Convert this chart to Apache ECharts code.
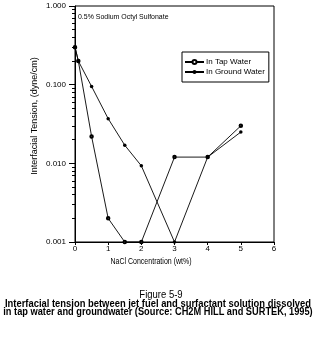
<!DOCTYPE html>
<html><head><meta charset="utf-8">
<script src="https://cdn.jsdelivr.net/npm/echarts@6/dist/echarts.min.js"></script>
<style>html,body{margin:0;padding:0;background:#fff}#c{width:322px;height:340px}</style>
</head><body><div id="c"></div>
<script>
const concentrations = [0, 0.1, 0.5, 1, 1.5, 2, 3, 4, 5];
const tapWater = [0.3, 0.2, 0.022, 0.002, 0.001, 0.001, 0.012, 0.012, 0.03];
const groundWater = [0.3, 0.2, 0.095, 0.037, 0.017, 0.0093, 0.001, 0.012, 0.025];
const seriesNames = ['In Tap Water', 'In Ground Water'];
const xTicks = [0, 1, 2, 3, 4, 5, 6];
const yMajorTicks = [0.001, 0.01, 0.1, 1];
const yMinorTicks = [0.002,0.003,0.004,0.005,0.006,0.007,0.008,0.009,
                     0.02,0.03,0.04,0.05,0.06,0.07,0.08,0.09,
                     0.2,0.3,0.4,0.5,0.6,0.7,0.8,0.9];
const chartNote = '0.5% Sodium Octyl Sulfonate';
const xName = 'NaCl Concentration (wt%)';
const yName = 'Interfacial Tension, (dyne/cm)';
const figTitle = 'Figure 5-9';
const caption1 = 'Interfacial tension between jet fuel and surfactant solution dissolved';
const caption2 = 'in tap water and groundwater (Source: CH2M HILL and SURTEK, 1995)';

const NF = "'Liberation Sans',Arial,sans-serif";
const pair = (xs, ys) => xs.map((x, i) => [x, ys[i]]);
const black = '#000';

const chart = echarts.init(document.getElementById('c'), null, {renderer: 'canvas'});
chart.setOption({
  animation: false,
  backgroundColor: '#fff',
  grid: {left: 75, top: 6, width: 199, height: 236, show: true, borderColor: black, borderWidth: 1, backgroundColor: 'transparent'},
  xAxis: {
    type: 'value', min: xTicks[0], max: xTicks[xTicks.length - 1], interval: 1,
    axisLine: {lineStyle: {color: black, width: 1}},
    axisTick: {length: 3, lineStyle: {color: black}},
    axisLabel: {color: black, fontSize: 8, fontFamily: NF, margin: 3},
    splitLine: {show: false}
  },
  yAxis: [{
    type: 'log', logBase: 10, min: yMajorTicks[0], max: yMajorTicks[yMajorTicks.length - 1],
    axisLine: {lineStyle: {color: black, width: 1}},
    axisTick: {length: 6, customValues: yMajorTicks, lineStyle: {color: black}},
    axisLabel: {color: black, fontSize: 8, fontFamily: NF, margin: 9, customValues: yMajorTicks,
      formatter: v => Number(v).toFixed(3)},
    splitLine: {show: false}
  }, {
    type: 'log', logBase: 10, min: yMajorTicks[0], max: yMajorTicks[yMajorTicks.length - 1],
    position: 'left', offset: 0,
    axisLine: {show: false},
    axisTick: {length: 3, customValues: yMinorTicks, lineStyle: {color: black}},
    axisLabel: {show: false},
    splitLine: {show: false}
  }],
  legend: {
    left: 182, top: 52, orient: 'vertical',
    backgroundColor: '#fff', borderColor: black, borderWidth: 1, borderRadius: 0,
    padding: [6, 4, 6, 2], itemGap: 2, itemWidth: 19, itemHeight: 5,
    textStyle: {color: black, fontSize: 8, fontFamily: NF, padding: [0, 0, 0, -3]},
    data: seriesNames
  },
  series: [{
    name: seriesNames[0], type: 'line', data: pair(concentrations, tapWater),
    symbol: 'emptyCircle', symbolSize: 2.5, clip: false,
    lineStyle: {color: black, width: 0.9}, itemStyle: {color: black, borderWidth: 0.8}
  }, {
    name: seriesNames[1], type: 'line', data: pair(concentrations, groundWater),
    symbol: 'circle', symbolSize: 3.5, clip: false,
    lineStyle: {color: black, width: 0.9}, itemStyle: {color: black}
  }],
  graphic: [
    {type: 'text', x: 78, y: 17, scaleX: 0.87, style: {text: chartNote, fontSize: 8, fontFamily: NF, fill: black, verticalAlign: 'middle'}},
    {type: 'text', x: 151, y: 262, scaleX: 0.78, style: {text: xName, fontSize: 9, fontFamily: NF, fill: black, align: 'center', verticalAlign: 'middle'}},
    {type: 'text', x: 35, y: 116, rotation: Math.PI / 2, style: {text: yName, fontSize: 9, fontFamily: NF, fill: black, align: 'center', verticalAlign: 'middle'}},
    {type: 'text', x: 161, y: 295, scaleX: 0.95, style: {text: figTitle, fontSize: 10, fontFamily: NF, fill: black, align: 'center', verticalAlign: 'middle'}},
    {type: 'text', x: 158, y: 304, scaleX: 0.94, style: {text: caption1, fontSize: 10, fontWeight: 'bold', fontFamily: NF, fill: black, align: 'center', verticalAlign: 'middle'}},
    {type: 'text', x: 158, y: 312, scaleX: 0.925, style: {text: caption2, fontSize: 10, fontWeight: 'bold', fontFamily: NF, fill: black, align: 'center', verticalAlign: 'middle'}}
  ]
});
</script></body></html>
